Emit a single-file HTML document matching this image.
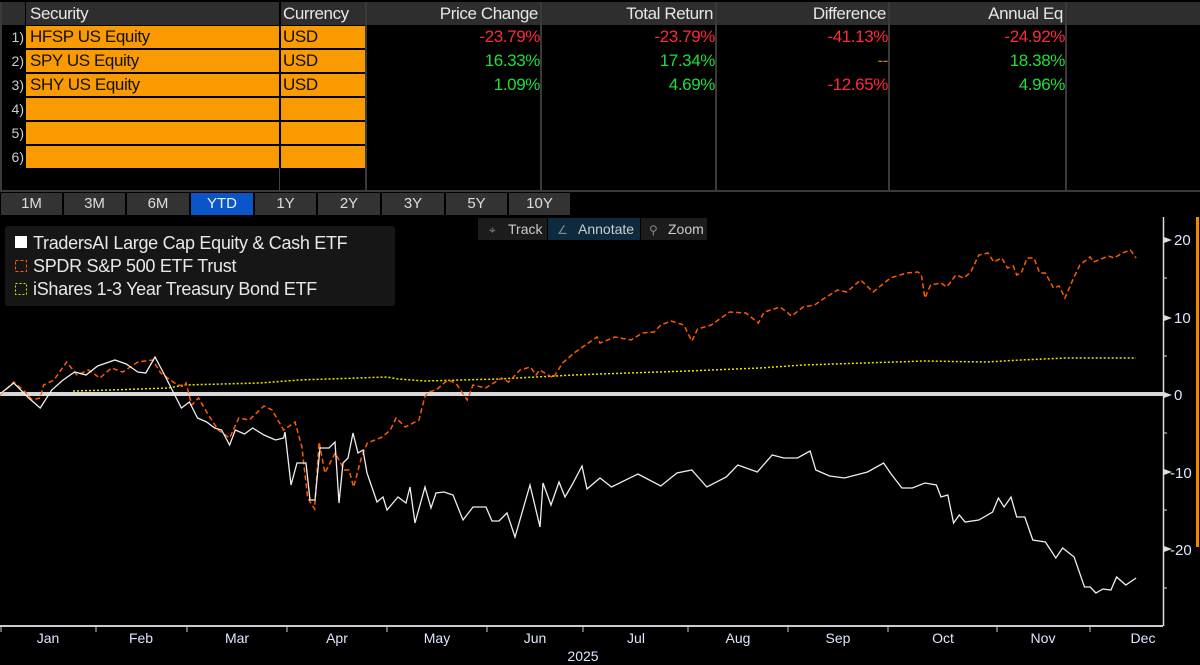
<!DOCTYPE html>
<html><head><meta charset="utf-8"><style>
body{margin:0;width:1200px;height:665px;background:#000;overflow:hidden;font-family:"Liberation Sans",sans-serif;color:#ddd;position:relative}
.a{position:absolute;box-sizing:border-box;white-space:nowrap}
.h{background:#2e2e2e;top:2px;height:23px;font-size:17px;line-height:23px;color:#e6e6e6;letter-spacing:-0.4px}
.o{background:#f99a00;color:#111;font-size:17px;line-height:22px;height:22px;padding-left:4px;letter-spacing:-0.4px}
.n{font-size:14px;color:#ccc;left:2px;width:22px;text-align:right;line-height:22px;height:22px}
.v{font-size:17px;line-height:22px;text-align:right;letter-spacing:-0.4px}
.r{color:#ff2a3c}.g{color:#1ddf3c}
.b{top:193px;height:22px;background:#333;font-size:15px;line-height:22px;text-align:center;color:#ddd}
.vl{background:#3a3a3a;width:2px;top:2px;height:189px}
</style></head><body>
<div class="a h" style="left:0;width:25px"></div>
<div class="a h" style="left:26px;width:253px;padding-left:4px">Security</div>
<div class="a h" style="left:281px;width:84px;padding-left:2px">Currency</div>
<div class="a h" style="left:367px;width:173px;text-align:right;padding-right:2px">Price Change</div>
<div class="a h" style="left:542px;width:173px;text-align:right;padding-right:2px">Total Return</div>
<div class="a h" style="left:717px;width:171px;text-align:right;padding-right:2px">Difference</div>
<div class="a h" style="left:890px;width:175px;text-align:right;padding-right:2px">Annual Eq</div>
<div class="a h" style="left:1067px;width:133px"></div>
<div class="a vl" style="left:365px"></div><div class="a vl" style="left:540px"></div><div class="a vl" style="left:715px"></div><div class="a vl" style="left:888px"></div><div class="a vl" style="left:1065px"></div>
<div class="a" style="left:0;top:190px;width:1200px;height:2px;background:#3a3a3a"></div>
<div class="a" style="left:0;top:2px;width:2px;height:190px;background:#3a3a3a"></div>
<div class="a" style="left:279px;top:168px;width:1px;height:22px;background:#444"></div>
<div class="a n" style="top:26px">1)</div><div class="a o" style="left:26px;top:26px;width:253px">HFSP US Equity</div><div class="a o" style="left:281px;top:26px;width:84px;padding-left:2px">USD</div>
<div class="a n" style="top:50px">2)</div><div class="a o" style="left:26px;top:50px;width:253px">SPY US Equity</div><div class="a o" style="left:281px;top:50px;width:84px;padding-left:2px">USD</div>
<div class="a n" style="top:74px">3)</div><div class="a o" style="left:26px;top:74px;width:253px">SHY US Equity</div><div class="a o" style="left:281px;top:74px;width:84px;padding-left:2px">USD</div>
<div class="a n" style="top:98px">4)</div><div class="a o" style="left:26px;top:98px;width:253px"></div><div class="a o" style="left:281px;top:98px;width:84px"></div>
<div class="a n" style="top:122px">5)</div><div class="a o" style="left:26px;top:122px;width:253px"></div><div class="a o" style="left:281px;top:122px;width:84px"></div>
<div class="a n" style="top:146px">6)</div><div class="a o" style="left:26px;top:146px;width:253px"></div><div class="a o" style="left:281px;top:146px;width:84px"></div>
<div class="a v r" style="left:367px;top:26px;width:173px">-23.79%</div>
<div class="a v g" style="left:367px;top:50px;width:173px">16.33%</div>
<div class="a v g" style="left:367px;top:74px;width:173px">1.09%</div>
<div class="a v r" style="left:542px;top:26px;width:173px">-23.79%</div>
<div class="a v g" style="left:542px;top:50px;width:173px">17.34%</div>
<div class="a v g" style="left:542px;top:74px;width:173px">4.69%</div>
<div class="a v r" style="left:717px;top:26px;width:171px">-41.13%</div>
<div class="a v" style="left:717px;top:50px;width:171px;color:#d07a00">--</div>
<div class="a v r" style="left:717px;top:74px;width:171px">-12.65%</div>
<div class="a v r" style="left:890px;top:26px;width:175px">-24.92%</div>
<div class="a v g" style="left:890px;top:50px;width:175px">18.38%</div>
<div class="a v g" style="left:890px;top:74px;width:175px">4.96%</div>
<div class="a b" style="left:1px;width:61px">1M</div>
<div class="a b" style="left:64px;width:61px">3M</div>
<div class="a b" style="left:127px;width:62px">6M</div>
<div class="a b" style="left:191px;width:62px;background:#0a56c8;color:#eee">YTD</div>
<div class="a b" style="left:255px;width:61px">1Y</div>
<div class="a b" style="left:318px;width:62px">2Y</div>
<div class="a b" style="left:382px;width:62px">3Y</div>
<div class="a b" style="left:446px;width:61px">5Y</div>
<div class="a b" style="left:509px;width:61px">10Y</div>
<svg class="a" style="left:0;top:0" width="1200" height="665" viewBox="0 0 1200 665">
<g font-family="Liberation Sans, sans-serif">
<rect x="478" y="218" width="69" height="22" fill="#1c1c1c"/>
<rect x="548" y="218" width="92" height="22" fill="#0e2a3e"/>
<rect x="641" y="218" width="66" height="22" fill="#1c1c1c"/>
<text x="508" y="234" font-size="14" fill="#ccc">Track</text>
<text x="489" y="234" font-size="12" fill="#888">⌖</text>
<text x="557" y="234" font-size="12" fill="#888">∠</text>
<text x="578" y="234" font-size="14" fill="#ccc">Annotate</text>
<text x="649" y="234" font-size="12" fill="#888">⚲</text>
<text x="668" y="234" font-size="14" fill="#ccc">Zoom</text>
<rect x="0" y="392" width="1163" height="4" fill="#d8d8d8"/>
<line x1="1163.5" y1="217" x2="1163.5" y2="626" stroke="#ddd" stroke-width="1.5"/>
<line x1="0" y1="626" x2="1163" y2="626" stroke="#ccc" stroke-width="2"/>
<rect x="1196" y="217" width="3" height="330" fill="#f08a00"/>
<g fill="#ddd"><path d="M1164 237l8 3-8 3z"/><path d="M1164 315l8 3-8 3z"/><path d="M1164 392l8 3-8 3z"/><path d="M1164 469l8 3-8 3z"/><path d="M1164 546l8 3-8 3z"/></g>
<g stroke="#ddd"><line x1="1163" y1="278" x2="1167" y2="278"/><line x1="1163" y1="356" x2="1167" y2="356"/><line x1="1163" y1="433" x2="1167" y2="433"/><line x1="1163" y1="510" x2="1167" y2="510"/><line x1="1163" y1="588" x2="1167" y2="588"/></g>
<g font-size="15" fill="#dde6ff"><text x="1174" y="245">20</text><text x="1174" y="323">10</text><text x="1174" y="400">0</text><text x="1170" y="478">-10</text><text x="1170" y="555">-20</text></g>
<g stroke="#ccc"><line x1="1" y1="626" x2="1" y2="632"/><line x1="96" y1="626" x2="96" y2="632"/><line x1="187" y1="626" x2="187" y2="632"/><line x1="287" y1="626" x2="287" y2="632"/><line x1="387" y1="626" x2="387" y2="632"/><line x1="487" y1="626" x2="487" y2="632"/><line x1="583" y1="626" x2="583" y2="632"/><line x1="688" y1="626" x2="688" y2="632"/><line x1="788" y1="626" x2="788" y2="632"/><line x1="888" y1="626" x2="888" y2="632"/><line x1="997" y1="626" x2="997" y2="632"/><line x1="1090" y1="626" x2="1090" y2="632"/></g>
<g font-size="14" fill="#dde6ff" text-anchor="middle"><text x="48" y="643">Jan</text><text x="141" y="643">Feb</text><text x="237" y="643">Mar</text><text x="337" y="643">Apr</text><text x="437" y="643">May</text><text x="535" y="643">Jun</text><text x="636" y="643">Jul</text><text x="738" y="643">Aug</text><text x="838" y="643">Sep</text><text x="943" y="643">Oct</text><text x="1043" y="643">Nov</text><text x="1143" y="643">Dec</text><text x="583" y="661">2025</text></g>
<polyline fill="none" stroke="#e6e600" stroke-width="1.5" stroke-dasharray="2,2" points="73,391 111,390 168,388 184,385 260,383 299,380 387,377 398,379 425,381 498,379 574,375 600,374 688,371 760,368 803,365 925,361 986,362 1021,360 1067,358 1136,358"/>
<polyline id="spy" fill="none" stroke="#ff5a00" stroke-width="1.5" stroke-dasharray="5,3" points=""/>
<polyline id="hf" fill="none" stroke="#eee" stroke-width="1.3" points=""/>
<rect x="5" y="226" width="390" height="80" rx="3" fill="#161616"/>
<rect x="15" y="236" width="12" height="12" fill="#fff"/>
<rect x="15.5" y="260.5" width="11" height="11" fill="none" stroke="#ff5a00" stroke-dasharray="3,2"/>
<rect x="15.5" y="283.5" width="11" height="11" fill="none" stroke="#e6e600" stroke-dasharray="2,2"/>
<g font-size="18" fill="#e8e8e8" letter-spacing="-0.3"><text x="33" y="249">TradersAI Large Cap Equity &amp; Cash ETF</text><text x="33" y="272">SPDR S&amp;P 500 ETF Trust</text><text x="33" y="295">iShares 1-3 Year Treasury Bond ETF</text></g>
</g></svg>
<script>
function sa(a){var o=[];for(var i=0;i<a.length;i+=2)o.push((a[i]*1.148).toFixed(1)+','+a[i+1]);return o;}
function sb(a){var o=[];for(var i=0;i<a.length;i+=2)o.push((600+(a[i]-600)*1.148).toFixed(1)+','+a[i+1]);return o;}
function raw(a){var o=[];for(var i=0;i<a.length;i+=2)o.push(a[i]+','+a[i+1]);return o;}
var spyA=[0,395,12,382,22,392,28,400,35,398,38,385,47,380,58,362,67,375,77,370,87,378,97,368,107,372,120,362,133,360,140,373,152,383,160,387,162,383,167,405,173,398,180,412,190,430,200,438,208,418,217,420,230,406,237,410,247,430,257,422,263,447,268,498,274,509,278,442,283,473,292,453,300,470,304,470,308,487,315,457,320,443,333,437,340,430,345,418,353,427,365,420,370,397,373,392,380,390,390,380,397,383,407,400,412,385,423,388,437,378,443,382,453,370,462,367,467,375,470,370,482,378,490,363,500,353,520,337];
var spyB=[600,343,613,337,627,340,637,333,647,332,653,325,662,321,673,325,680,341,685,329,697,325,703,320,713,312,727,313,738,323,743,312,757,307,767,316,777,307,787,305,793,300,807,290,815,292,827,280,838,292,853,278,867,273,877,272,880,275,883,298,888,285,897,283,902,287,910,275,917,278,923,272,930,255,938,253,943,262,950,258,955,268,960,266,963,275,967,273,972,258,978,258,983,273,988,273,995,288,1000,286,1005,298,1013,277,1018,265,1027,257,1030,262,1043,256,1048,258,1055,253,1062,250,1067,258];
var hA=[0,394,12,383,25,398,35,408,45,390,55,380,65,372,75,375,85,366,95,362,100,360,110,364,120,372,127,373,135,357,142,372,150,390,158,408,165,402,172,418,180,422,187,428,193,430,200,445,205,430,213,434,220,428,230,435,240,440,247,438];
var hM=[285,432,291,485,297,463,306,463,310,500,315,500,320,448,329,448,335,442,339,503,343,463,348,458,353,433,358,453,363,450,367,473,377,502,383,497,387,510,398,497,406,503,410,487,415,523,425,487,431,508,436,493,444,492,453,495,463,520,473,507,486,507,492,521,499,521,507,513,515,537,530,485,540,527,543,483,551,505,559,482,565,497,572,485,582,466,587,489,600,478];
var hB=[610,487,633,474,653,486,667,473,680,470,693,487,710,477,720,465,737,472,750,455,760,458,772,458,783,451,788,470,800,476,813,478,833,472,847,463,853,473,863,488,872,488,883,483,893,485,897,497,903,495,908,523,913,515,918,522,930,520,942,512,947,498,952,507,958,497,963,517,970,517,977,540,988,542,997,558,1003,548,1013,557,1022,587,1027,587,1032,593,1038,589,1045,590,1050,577,1058,585,1067,578];
document.getElementById('spy').setAttribute('points',sa(spyA).concat(sb(spyB)).join(' '));
document.getElementById('hf').setAttribute('points',sa(hA).concat(raw(hM),sb(hB)).join(' '));
</script>
</body></html>
